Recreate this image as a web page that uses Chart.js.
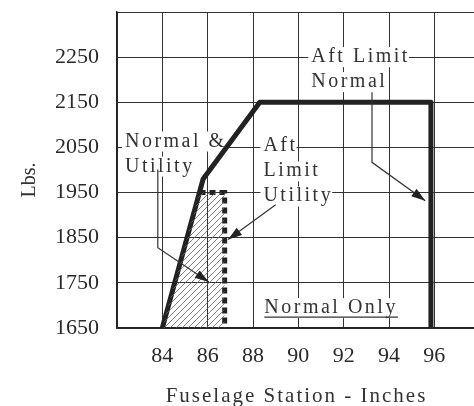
<!DOCTYPE html>
<html>
<head>
<meta charset="utf-8">
<script src="https://cdn.jsdelivr.net/npm/chart.js@4/dist/chart.umd.min.js"></script>
<style>
  html, body { margin: 0; padding: 0; background: #fff; }
  #wrap { width: 474px; height: 406px; position: relative; }
</style>
</head>
<body>
<div id="wrap"><canvas id="chart"></canvas></div>
<script>
// axis ticks
const xTicks = [82, 84, 86, 88, 90, 92, 94, 96];
const yTicks = [1650, 1750, 1850, 1950, 2050, 2150, 2250, 2350];

// envelope lines (station in inches, weight in lbs)
const normalX = [84, 85.8, 88.3, 95.85, 95.85];
const normalY = [1650, 1980, 2150, 2150, 1650];
const utilityX = [85.64, 86.75, 86.75];
const utilityY = [1950, 1950, 1650];
const hatchX = [84, 85.64, 86.75, 86.75];
const hatchY = [1650, 1950, 1950, 1650];

// callout texts and arrows, placed in data units
const callouts = [
  { lines: ['Normal &', 'Utility'], x: 82.35, y: 2052 },
  { lines: ['Aft', 'Limit', 'Utility'], x: 88.46, y: 2041 },
  { lines: ['Aft Limit', 'Normal'], x: 90.57, y: 2239 },
  { lines: ['Normal Only'], x: 88.5, y: 1683, underline: true }
];
const arrows = [
  [[83.8, 2001], [83.8, 1828], [86.05, 1752]],
  [[89.0, 1923], [86.9, 1846]],
  [[93.25, 2172], [93.25, 2017], [95.6, 1932]]
];

const toPoints = (xs, ys) => xs.map((v, i) => ({ x: v, y: ys[i] }));

function makeHatch() {
  const c = document.createElement('canvas');
  c.width = 6; c.height = 6;
  const g = c.getContext('2d');
  g.strokeStyle = '#666';
  g.lineWidth = 0.8;
  g.beginPath();
  g.moveTo(0, 6); g.lineTo(6, 0);
  g.moveTo(-1, 1); g.lineTo(1, -1);
  g.moveTo(5, 7); g.lineTo(7, 5);
  g.stroke();
  return g.createPattern(c, 'repeat');
}

const serif = '"Liberation Serif", "DejaVu Serif", serif';

const calloutPlugin = {
  id: 'callouts',
  beforeDatasetsDraw(chart) {
    const { ctx, scales: { x, y } } = chart;
    ctx.save();
    ctx.font = '20px ' + serif;
    ctx.letterSpacing = '2.5px';
    ctx.textAlign = 'left';
    ctx.textBaseline = 'alphabetic';
    callouts.forEach(c => {
      const px = x.getPixelForValue(c.x);
      const py = y.getPixelForValue(c.y);
      c.lines.forEach((t, i) => {
        const by = py + i * 25;
        const w = ctx.measureText(t).width;
        ctx.fillStyle = '#fff';
        ctx.fillRect(px - 3, by - 15, w + 2, 20);
        ctx.fillStyle = '#333';
        ctx.fillText(t, px, by);
        if (c.underline) {
          ctx.strokeStyle = '#333';
          ctx.lineWidth = 1.2;
          ctx.beginPath();
          ctx.moveTo(px, by + 4);
          ctx.lineTo(px + w, by + 4);
          ctx.stroke();
        }
      });
    });
    ctx.restore();
  },
  afterDatasetsDraw(chart) {
    const { ctx, scales: { x, y } } = chart;
    ctx.save();
    ctx.strokeStyle = '#333';
    ctx.fillStyle = '#222';
    ctx.lineWidth = 1.2;
    arrows.forEach(a => {
      const pts = a.map(p => [x.getPixelForValue(p[0]), y.getPixelForValue(p[1])]);
      ctx.beginPath();
      pts.forEach((p, i) => i ? ctx.lineTo(p[0], p[1]) : ctx.moveTo(p[0], p[1]));
      ctx.stroke();
      const [bx, by] = pts[pts.length - 2];
      const [tx, ty] = pts[pts.length - 1];
      const ang = Math.atan2(ty - by, tx - bx);
      const len = 14, half = 4.5;
      ctx.beginPath();
      ctx.moveTo(tx, ty);
      ctx.lineTo(tx - len * Math.cos(ang) + half * Math.sin(ang), ty - len * Math.sin(ang) - half * Math.cos(ang));
      ctx.lineTo(tx - len * Math.cos(ang) - half * Math.sin(ang), ty - len * Math.sin(ang) + half * Math.cos(ang));
      ctx.closePath();
      ctx.fill();
    });
    ctx.restore();
  },
  afterDraw(chart) {
    const { ctx, chartArea } = chart;
    ctx.save();
    ctx.fillStyle = '#333';
    ctx.textAlign = 'center';
    ctx.textBaseline = 'alphabetic';
    ctx.font = '21px ' + serif;
    ctx.letterSpacing = '2px';
    ctx.fillText('Fuselage Station - Inches', (chartArea.left + chartArea.right) / 2 + 1, 402);
    ctx.letterSpacing = '0px';
    ctx.font = '20px ' + serif;
    ctx.translate(35, 180);
    ctx.rotate(-Math.PI / 2);
    ctx.fillText('Lbs.', 0, 0);
    ctx.restore();
  }
};

const ctx = document.getElementById('chart').getContext('2d');
new Chart(ctx, {
  type: 'scatter',
  data: {
    datasets: [
      {
        data: toPoints(hatchX, hatchY),
        showLine: true,
        borderWidth: 0,
        pointRadius: 0,
        fill: 'start',
        backgroundColor: makeHatch()
      },
      {
        data: toPoints(utilityX, utilityY),
        showLine: true,
        borderColor: '#222',
        borderWidth: 5,
        borderDash: [6, 4],
        borderCapStyle: 'butt',
        pointRadius: 0,
        fill: false
      },
      {
        data: toPoints(normalX, normalY),
        showLine: true,
        borderColor: '#222',
        borderWidth: 5,
        borderJoinStyle: 'round',
        pointRadius: 0,
        fill: false
      }
    ]
  },
  options: {
    responsive: true,
    maintainAspectRatio: false,
    animation: false,
    layout: { padding: { top: 12, left: 0, right: 0, bottom: 0 } },
    plugins: {
      legend: { display: false },
      tooltip: { enabled: false }
    },
    scales: {
      x: {
        type: 'linear',
        min: 82,
        max: 97.75,
        afterBuildTicks: s => { s.ticks = xTicks.map(v => ({ value: v })); },
        afterFit: s => { s.height = 78; s.paddingLeft = 0; s.paddingRight = 0; },
        ticks: {
          padding: 15,
          color: '#2a2a2a',
          font: { family: serif, size: 22 },
          callback: v => (v === 82 ? '' : v)
        },
        grid: { color: '#333', lineWidth: 1, drawTicks: false },
        border: { color: '#222', width: 1.5 }
      },
      y: {
        type: 'linear',
        min: 1650,
        max: 2350,
        afterBuildTicks: s => { s.ticks = yTicks.map(v => ({ value: v })); },
        afterFit: s => { s.width = 117; s.paddingTop = 0; s.paddingBottom = 0; },
        ticks: {
          padding: 18,
          color: '#2a2a2a',
          font: { family: serif, size: 22 },
          callback: v => (v === 2350 ? '' : v)
        },
        grid: { color: '#333', lineWidth: 1, drawTicks: false },
        border: { color: '#222', width: 1.5 }
      }
    }
  },
  plugins: [calloutPlugin]
});
</script>
</body>
</html>
